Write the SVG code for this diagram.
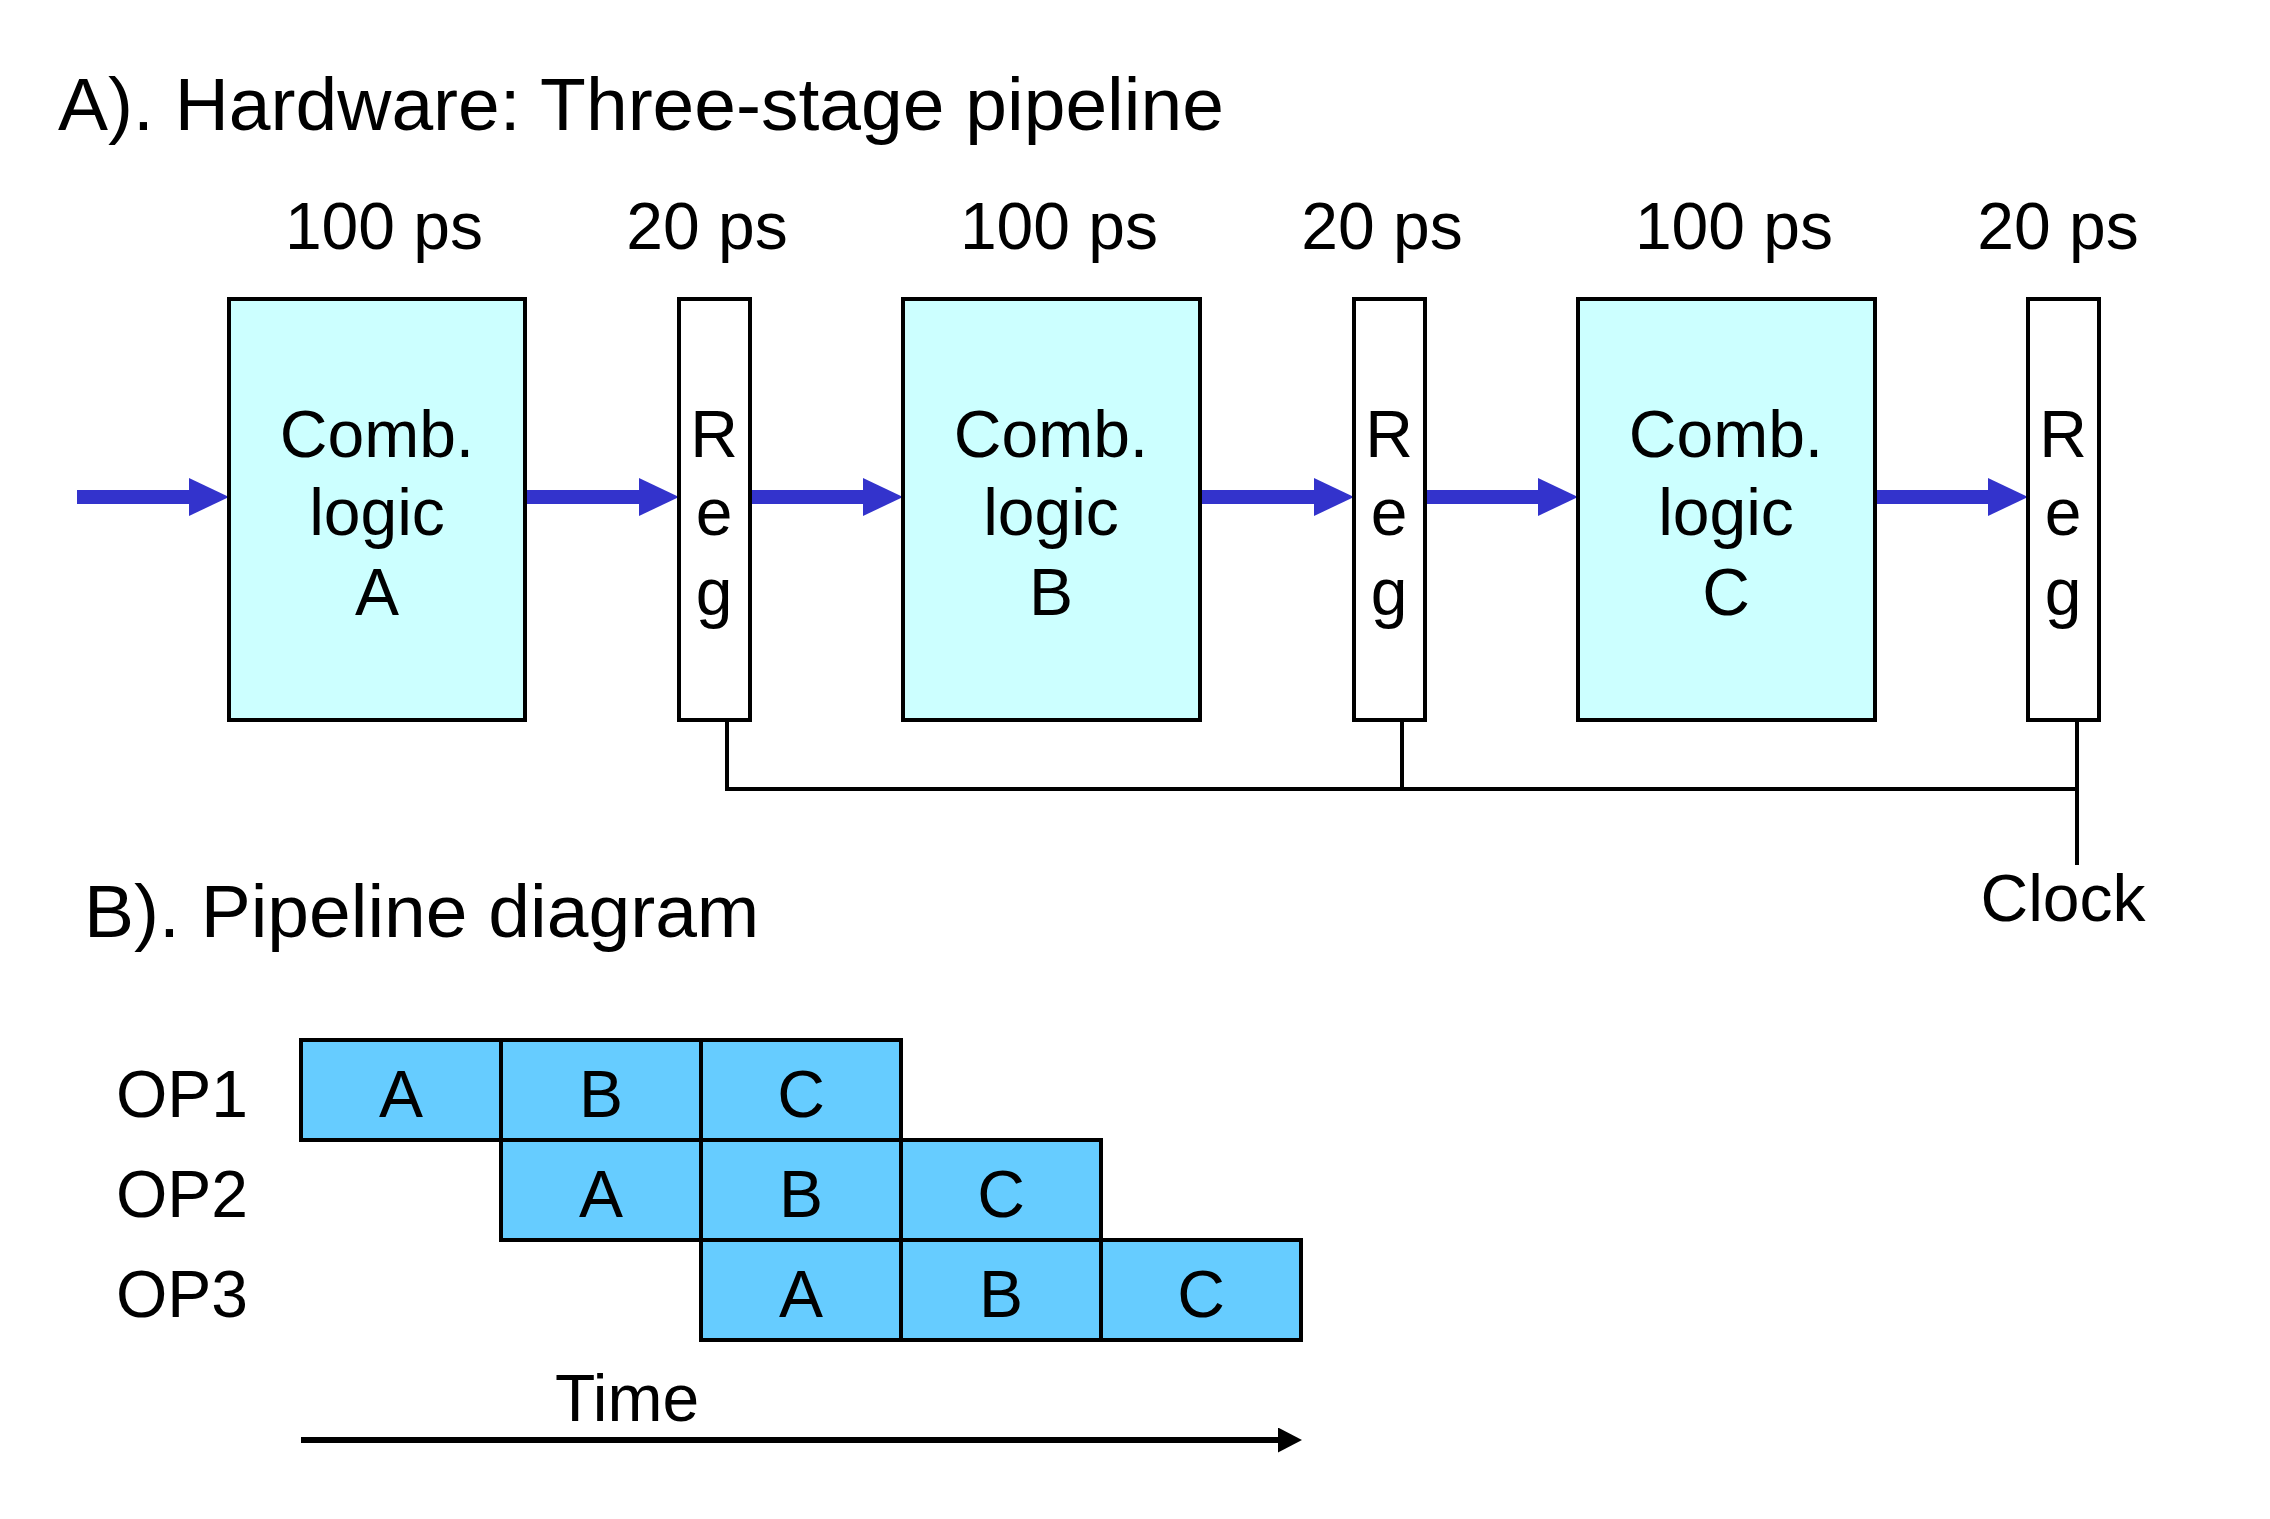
<svg xmlns="http://www.w3.org/2000/svg" width="2270" height="1519" viewBox="0 0 2270 1519">
<style>
text{font-family:"Liberation Sans",Arial,sans-serif;fill:#000}
.title{font-size:75px}
.lbl{font-size:66px}
.mid{text-anchor:middle}
.comb{fill:#CCFFFF;stroke:#000;stroke-width:4}
.reg{fill:#fff;stroke:#000;stroke-width:4}
.cell{fill:#66CCFF;stroke:#000;stroke-width:4}
.flow{stroke:#3333CC;stroke-width:14;fill:none}
.clk{stroke:#000;stroke-width:4;fill:none}
.time{stroke:#000;stroke-width:6;fill:none}
</style>
<defs>
<marker id="bluehead" viewBox="0 0 40 38" refX="10" refY="19" markerWidth="40" markerHeight="38" markerUnits="userSpaceOnUse" orient="auto">
<path d="M0,0 L40,19 L0,38 z" fill="#3333CC"/>
</marker>
<marker id="blackhead" viewBox="0 0 24 25" refX="10" refY="12.5" markerWidth="24" markerHeight="25" markerUnits="userSpaceOnUse" orient="auto">
<path d="M0,0 L24,12.5 L0,25 z" fill="#000"/>
</marker>
</defs>
<rect width="2270" height="1519" fill="#fff"/>
<text class="title" x="58" y="130">A). Hardware: Three-stage pipeline</text>
<g id="timing-labels" class="lbl">
<text class="lbl mid" x="384" y="249">100 ps</text>
<text class="lbl mid" x="707" y="249">20 ps</text>
<text class="lbl mid" x="1059" y="249">100 ps</text>
<text class="lbl mid" x="1382" y="249">20 ps</text>
<text class="lbl mid" x="1734" y="249">100 ps</text>
<text class="lbl mid" x="2058" y="249">20 ps</text>
</g>
<g id="connectors">
<line class="flow" x1="77" y1="497" x2="199" y2="497" marker-end="url(#bluehead)"/>
<line class="flow" x1="525" y1="497" x2="649" y2="497" marker-end="url(#bluehead)"/>
<line class="flow" x1="750" y1="497" x2="873" y2="497" marker-end="url(#bluehead)"/>
<line class="flow" x1="1200" y1="497" x2="1324" y2="497" marker-end="url(#bluehead)"/>
<line class="flow" x1="1425" y1="497" x2="1548" y2="497" marker-end="url(#bluehead)"/>
<line class="flow" x1="1875" y1="497" x2="1998" y2="497" marker-end="url(#bluehead)"/>
<polyline class="clk" points="727,720 727,789 2077,789"/>
<line class="clk" x1="1402" y1="720" x2="1402" y2="789"/>
<line class="clk" x1="2077" y1="720" x2="2077" y2="865"/>
<line class="time" x1="301" y1="1440" x2="1288" y2="1440" marker-end="url(#blackhead)"/>
</g>
<g id="comb-a"><rect class="comb" x="229" y="299" width="296" height="421"/>
<text class="lbl mid" x="377" y="457">Comb.</text><text class="lbl mid" x="377" y="535">logic</text><text class="lbl mid" x="377" y="615">A</text></g>
<g id="reg-1"><rect class="reg" x="679" y="299" width="71" height="421"/>
<text class="lbl mid" x="714" y="457">R</text><text class="lbl mid" x="714" y="535">e</text><text class="lbl mid" x="714" y="615">g</text></g>
<g id="comb-b"><rect class="comb" x="903" y="299" width="297" height="421"/>
<text class="lbl mid" x="1051" y="457">Comb.</text><text class="lbl mid" x="1051" y="535">logic</text><text class="lbl mid" x="1051" y="615">B</text></g>
<g id="reg-2"><rect class="reg" x="1354" y="299" width="71" height="421"/>
<text class="lbl mid" x="1389" y="457">R</text><text class="lbl mid" x="1389" y="535">e</text><text class="lbl mid" x="1389" y="615">g</text></g>
<g id="comb-c"><rect class="comb" x="1578" y="299" width="297" height="421"/>
<text class="lbl mid" x="1726" y="457">Comb.</text><text class="lbl mid" x="1726" y="535">logic</text><text class="lbl mid" x="1726" y="615">C</text></g>
<g id="reg-3"><rect class="reg" x="2028" y="299" width="71" height="421"/>
<text class="lbl mid" x="2063" y="457">R</text><text class="lbl mid" x="2063" y="535">e</text><text class="lbl mid" x="2063" y="615">g</text></g>
<g id="clock-label"><text class="lbl mid" x="2063" y="921">Clock</text></g>
<text class="title" x="84" y="937">B). Pipeline diagram</text>
<g id="op1">
<text class="lbl" x="116" y="1117">OP1</text>
<rect class="cell" x="301" y="1040" width="200" height="100"/><text class="lbl mid" x="401" y="1117">A</text>
<rect class="cell" x="501" y="1040" width="200" height="100"/><text class="lbl mid" x="601" y="1117">B</text>
<rect class="cell" x="701" y="1040" width="200" height="100"/><text class="lbl mid" x="801" y="1117">C</text>
</g>
<g id="op2">
<text class="lbl" x="116" y="1217">OP2</text>
<rect class="cell" x="501" y="1140" width="200" height="100"/><text class="lbl mid" x="601" y="1217">A</text>
<rect class="cell" x="701" y="1140" width="200" height="100"/><text class="lbl mid" x="801" y="1217">B</text>
<rect class="cell" x="901" y="1140" width="200" height="100"/><text class="lbl mid" x="1001" y="1217">C</text>
</g>
<g id="op3">
<text class="lbl" x="116" y="1317">OP3</text>
<rect class="cell" x="701" y="1240" width="200" height="100"/><text class="lbl mid" x="801" y="1317">A</text>
<rect class="cell" x="901" y="1240" width="200" height="100"/><text class="lbl mid" x="1001" y="1317">B</text>
<rect class="cell" x="1101" y="1240" width="200" height="100"/><text class="lbl mid" x="1201" y="1317">C</text>
</g>
<g id="time-label"><text class="lbl" x="555" y="1421">Time</text></g>
</svg>
